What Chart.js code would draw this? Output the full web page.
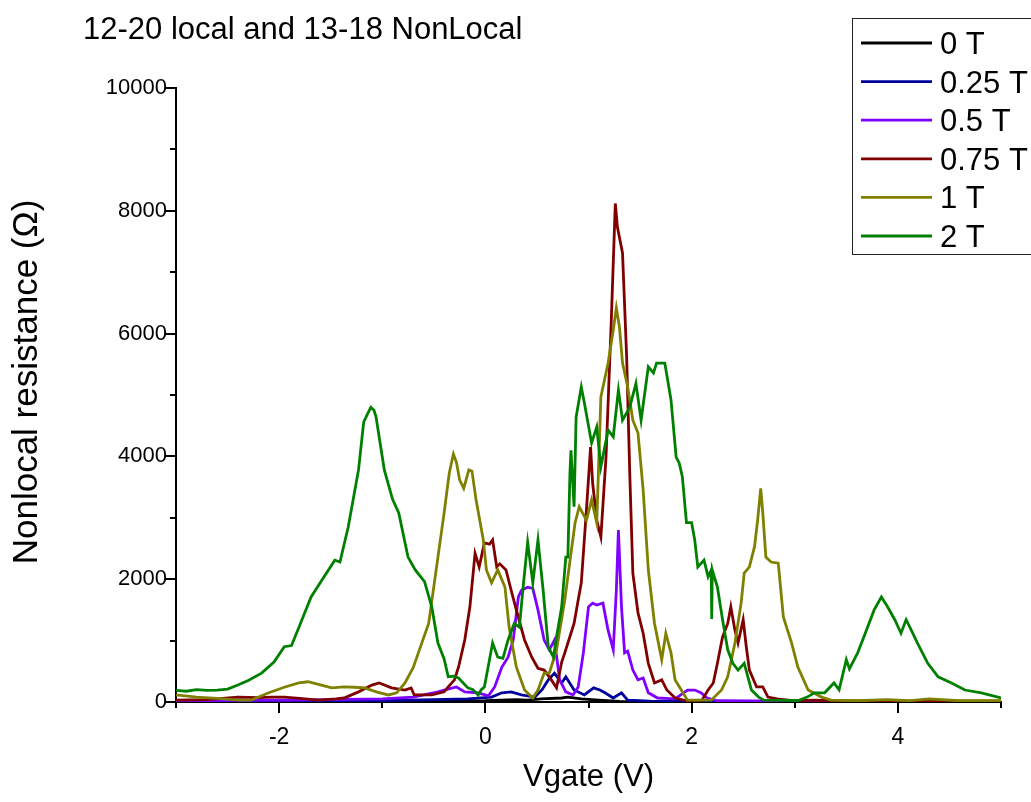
<!DOCTYPE html>
<html>
<head>
<meta charset="utf-8">
<title>12-20 local and 13-18 NonLocal</title>
<script src="https://cdn.jsdelivr.net/npm/chart.js@4.4.1/dist/chart.umd.min.js"></script>
<style>
  html, body { margin: 0; padding: 0; background: #ffffff; }
  #wrap { width: 1031px; height: 802px; position: relative; }
</style>
</head>
<body>
<div id="wrap"><canvas id="plot" width="1031" height="802"></canvas></div>
<script>
// Gate-voltage sweeps of the nonlocal resistance (Ω) at several magnetic fields.
const FIELD_LABELS = ['0 T', '0.25 T', '0.5 T', '0.75 T', '1 T', '2 T'];
const FIELD_COLORS = ['#000000', '#00009c', '#8000ff', '#800000', '#808000', '#008000'];

const X_MIN = -3, X_MAX = 5, X_STEP = 1, X_LABEL_EVERY = 2;
const Y_MIN = 0, Y_MAX = 10000, Y_STEP = 1000, Y_LABEL_EVERY = 2000;

const vgate_0T = [-3, -1, 0, 0.3, 0.41, 0.54, 0.74, 0.8, 0.93, 1.1, 1.3, 5];
const r_0T     = [5, 10, 20, 40, 30, 50, 65, 80, 50, 30, 10, 5];

const vgate_025T = [-3, -2, -1, -0.5, -0.17, 0.06, 0.16, 0.25, 0.35, 0.48, 0.55, 0.61, 0.67, 0.74, 0.78, 0.86, 0.96, 1.05, 1.11, 1.16, 1.24, 1.32, 1.38, 1.6, 5];
const r_025T     = [10, 15, 20, 40, 50, 80, 150, 165, 115, 80, 200, 360, 470, 310, 410, 195, 115, 230, 195, 150, 65, 150, 30, 15, 10];

const vgate_05T = [-3, -2.5, -2, -1.5, -1, -0.7, -0.46, -0.4, -0.28, -0.2, -0.07, 0.03, 0.09, 0.16, 0.22, 0.27, 0.32, 0.35, 0.41, 0.46, 0.51, 0.57, 0.62, 0.67, 0.72, 0.78, 0.85, 0.9, 0.95, 1.0, 1.04, 1.08, 1.14, 1.19, 1.24, 1.27, 1.29, 1.32, 1.35, 1.38, 1.43, 1.48, 1.53, 1.58, 1.67, 1.84, 1.96, 2.03, 2.09, 2.15, 2.25, 3, 5];
const r_05T     = [20, 25, 30, 40, 50, 80, 165, 195, 245, 165, 150, 100, 245, 570, 730, 1010, 1710, 1820, 1870, 1850, 1500, 1010, 850, 1010, 360, 165, 115, 245, 800, 1550, 1610, 1580, 1610, 1170, 850, 1820, 2800, 1550, 800, 830, 520, 360, 390, 150, 65, 50, 195, 195, 150, 65, 20, 15, 10];

const vgate_075T = [-3, -2.7, -2.4, -2.2, -2.07, -1.95, -1.8, -1.62, -1.45, -1.37, -1.23, -1.1, -1.03, -0.91, -0.78, -0.72, -0.69, -0.52, -0.4, -0.36, -0.3, -0.26, -0.2, -0.15, -0.1, -0.06, -0.01, 0.04, 0.07, 0.11, 0.14, 0.2, 0.25, 0.3, 0.38, 0.45, 0.51, 0.57, 0.64, 0.69, 0.74, 0.77, 0.83, 0.86, 0.9, 0.93, 0.98, 1.02, 1.04, 1.08, 1.12, 1.17, 1.22, 1.26, 1.28, 1.33, 1.37, 1.4, 1.43, 1.48, 1.53, 1.58, 1.64, 1.71, 1.76, 1.84, 1.95, 2.1, 2.16, 2.21, 2.25, 2.3, 2.35, 2.38, 2.42, 2.45, 2.5, 2.53, 2.56, 2.63, 2.69, 2.74, 2.83, 3.0, 3.2, 3.5, 5];
const r_075T     = [30, 40, 80, 70, 80, 80, 60, 30, 50, 65, 165, 275, 310, 230, 195, 230, 115, 115, 165, 245, 360, 570, 1010, 1550, 2420, 2200, 2590, 2570, 2640, 2200, 2250, 2150, 1820, 1500, 1010, 730, 550, 520, 360, 230, 650, 800, 1120, 1280, 1660, 1940, 3130, 4150, 3570, 2960, 2690, 3990, 6170, 8120, 7740, 7310, 5620, 3730, 2100, 1450, 1120, 630, 310, 360, 195, 65, 20, 30, 195, 310, 630, 1060, 1280, 1550, 1170, 960, 1340, 900, 520, 245, 245, 80, 50, 20, 30, 15, 15];

const vgate_1T = [-3, -2.8, -2.6, -2.4, -2.27, -2.1, -1.95, -1.81, -1.72, -1.6, -1.49, -1.37, -1.27, -1.17, -1.05, -0.94, -0.86, -0.78, -0.7, -0.65, -0.55, -0.46, -0.4, -0.35, -0.31, -0.28, -0.25, -0.21, -0.16, -0.13, -0.09, -0.02, 0.01, 0.06, 0.12, 0.19, 0.23, 0.3, 0.38, 0.46, 0.51, 0.57, 0.62, 0.69, 0.77, 0.83, 0.87, 0.91, 0.98, 1.03, 1.08, 1.12, 1.19, 1.24, 1.27, 1.3, 1.33, 1.38, 1.43, 1.48, 1.53, 1.58, 1.64, 1.71, 1.75, 1.8, 1.84, 1.9, 1.96, 2.19, 2.29, 2.35, 2.42, 2.48, 2.51, 2.56, 2.61, 2.64, 2.67, 2.69, 2.72, 2.77, 2.84, 2.89, 2.97, 3.03, 3.13, 3.26, 3.35, 3.6, 3.9, 4.1, 4.3, 4.6, 5];
const r_1T     = [115, 80, 60, 30, 30, 150, 240, 310, 330, 280, 230, 245, 240, 230, 160, 115, 150, 310, 560, 800, 1280, 2360, 3080, 3730, 4040, 3900, 3620, 3480, 3780, 3760, 3290, 2640, 2150, 1940, 2150, 1870, 1220, 570, 195, 65, 195, 470, 470, 850, 1660, 2420, 2920, 3180, 2960, 3290, 2920, 4970, 5520, 6060, 6420, 6110, 5520, 5130, 4590, 4380, 3450, 2150, 1280, 690, 1120, 800, 360, 195, 30, 30, 195, 410, 960, 1610, 2100, 2200, 2530, 2960, 3480, 3080, 2360, 2280, 2260, 1380, 960, 570, 195, 80, 30, 20, 40, 20, 50, 20, 20];

const vgate_2T = [-3, -2.9, -2.8, -2.7, -2.6, -2.5, -2.4, -2.3, -2.17, -2.05, -1.95, -1.88, -1.8, -1.69, -1.58, -1.46, -1.41, -1.33, -1.23, -1.18, -1.14, -1.11, -1.08, -1.06, -0.98, -0.9, -0.84, -0.75, -0.68, -0.59, -0.52, -0.46, -0.4, -0.36, -0.31, -0.26, -0.17, -0.12, -0.07, -0.04, -0.01, 0.03, 0.07, 0.12, 0.17, 0.22, 0.28, 0.33, 0.37, 0.41, 0.46, 0.51, 0.56, 0.61, 0.66, 0.69, 0.74, 0.78, 0.8, 0.82, 0.83, 0.86, 0.88, 0.93, 0.96, 1.03, 1.08, 1.12, 1.19, 1.24, 1.29, 1.33, 1.4, 1.46, 1.51, 1.58, 1.63, 1.66, 1.74, 1.8, 1.85, 1.88, 1.91, 1.95, 2.0, 2.03, 2.06, 2.12, 2.16, 2.19, 2.195, 2.2, 2.25, 2.3, 2.35, 2.4, 2.45, 2.51, 2.58, 2.65, 2.7, 2.9, 3.03, 3.12, 3.19, 3.29, 3.38, 3.43, 3.5, 3.53, 3.61, 3.67, 3.77, 3.84, 3.9, 3.97, 4.03, 4.08, 4.13, 4.19, 4.29, 4.39, 4.52, 4.65, 4.81, 5];
const r_2T     = [190, 175, 200, 190, 195, 210, 277, 350, 470, 650, 900, 920, 1250, 1710, 2000, 2310, 2280, 2850, 3780, 4560, 4700, 4800, 4750, 4640, 3780, 3300, 3080, 2360, 2150, 1960, 1550, 960, 700, 410, 420, 390, 230, 200, 115, 200, 245, 600, 960, 730, 710, 1010, 1280, 1220, 1940, 2600, 1940, 2640, 1820, 900, 730, 1060, 1550, 2360, 2360, 3730, 4100, 3180, 4640, 5130, 4870, 4220, 4480, 3830, 4430, 4320, 5080, 4590, 4800, 5190, 4590, 5460, 5360, 5520, 5520, 4920, 3990, 3890, 3670, 2920, 2920, 2640, 2200, 2310, 2040, 2150, 1350, 2150, 1870, 1340, 850, 630, 520, 630, 195, 80, 30, 25, 20, 80, 150, 150, 310, 200, 690, 540, 800, 1060, 1500, 1710, 1550, 1340, 1120, 1340, 1170, 960, 630, 410, 310, 195, 150, 65];

const SERIES_X = [vgate_0T, vgate_025T, vgate_05T, vgate_075T, vgate_1T, vgate_2T];
const SERIES_Y = [r_0T, r_025T, r_05T, r_075T, r_1T, r_2T];

const TITLE_TEXT = '12-20 local and 13-18 NonLocal';
const X_TITLE = 'Vgate (V)';
const Y_TITLE = 'Nonlocal resistance (\u03A9)';

const FONT = '"Liberation Sans", Arial, Helvetica, sans-serif';

const datasets = FIELD_LABELS.map((label, i) => ({
  label,
  data: SERIES_X[i].map((x, k) => ({ x, y: SERIES_Y[i][k] })),
  borderColor: FIELD_COLORS[i],
  backgroundColor: FIELD_COLORS[i],
  borderWidth: 2.8,
  pointRadius: 0,
  tension: 0,
  fill: false,
  // later fields are painted over earlier ones
  order: FIELD_LABELS.length - i
}));

// Axis tick marks (long for labelled values, short in between), titles and legend box.
const decorations = {
  id: 'decorations',
  afterDraw(chart) {
    const ctx = chart.ctx;
    const area = chart.chartArea;
    const xs = chart.scales.x, ys = chart.scales.y;
    ctx.save();
    ctx.strokeStyle = '#000';
    ctx.lineWidth = 2;
    ctx.beginPath();
    xs.ticks.forEach(t => {
      const px = Math.round(xs.getPixelForValue(t.value));
      const len = (Math.round(t.value) % X_LABEL_EVERY === 0) ? 11 : 6;
      ctx.moveTo(px, area.bottom);
      ctx.lineTo(px, area.bottom + len);
    });
    ys.ticks.forEach(t => {
      const py = Math.round(ys.getPixelForValue(t.value));
      const len = (Math.round(t.value) % Y_LABEL_EVERY === 0) ? 11 : 6;
      ctx.moveTo(area.left, py);
      ctx.lineTo(area.left - len, py);
    });
    ctx.stroke();

    ctx.fillStyle = '#000';
    // chart title
    ctx.font = '31px ' + FONT;
    ctx.textAlign = 'left';
    ctx.textBaseline = 'alphabetic';
    ctx.fillText(TITLE_TEXT, 83, 39);

    // x axis title
    ctx.textAlign = 'center';
    ctx.fillText(X_TITLE, (area.left + area.right) / 2, 786);

    // y axis title
    ctx.save();
    ctx.font = '35px ' + FONT;
    ctx.translate(37, 382);
    ctx.rotate(-Math.PI / 2);
    ctx.fillText(Y_TITLE, 0, 0);
    ctx.restore();

    // legend
    const boxX = 852.5, boxY = 18.5, boxW = 200, boxH = 236;
    ctx.lineWidth = 1;
    ctx.strokeStyle = '#222';
    ctx.strokeRect(boxX, boxY, boxW, boxH);
    ctx.textAlign = 'left';
    chart.data.datasets.forEach((ds, i) => {
      const cy = 43 + i * 38.6;
      ctx.strokeStyle = ds.borderColor;
      ctx.lineWidth = 2.8;
      ctx.beginPath();
      ctx.moveTo(861, cy);
      ctx.lineTo(932, cy);
      ctx.stroke();
      ctx.fillStyle = '#000';
      ctx.fillText(ds.label, 940, cy + 11);
    });
    ctx.restore();
  }
};

new Chart(document.getElementById('plot'), {
  type: 'line',
  data: { datasets },
  options: {
    responsive: false,
    animation: false,
    events: [],
    layout: { padding: { top: 88, right: 30, left: 0, bottom: 0 } },
    plugins: {
      legend: { display: false },
      title: { display: false },
      tooltip: { enabled: false }
    },
    scales: {
      x: {
        type: 'linear',
        min: X_MIN,
        max: X_MAX,
        afterFit(scale) { scale.height = 100; },
        border: { display: true, color: '#000', width: 2 },
        grid: { display: false, drawTicks: false },
        ticks: {
          stepSize: X_STEP,
          autoSkip: false,
          maxRotation: 0,
          padding: 22,
          color: '#000',
          font: { family: FONT, size: 23 },
          callback: v => (Math.round(v) % X_LABEL_EVERY === 0 ? String(v) : '')
        }
      },
      y: {
        type: 'linear',
        min: Y_MIN,
        max: Y_MAX,
        afterFit(scale) { scale.width = 176; },
        border: { display: true, color: '#000', width: 2 },
        grid: { display: false, drawTicks: false },
        ticks: {
          stepSize: Y_STEP,
          autoSkip: false,
          padding: 9,
          color: '#000',
          font: { family: FONT, size: 22 },
          callback: v => (Math.round(v) % Y_LABEL_EVERY === 0 ? String(v) : '')
        }
      }
    }
  },
  plugins: [decorations]
});
</script>
</body>
</html>
